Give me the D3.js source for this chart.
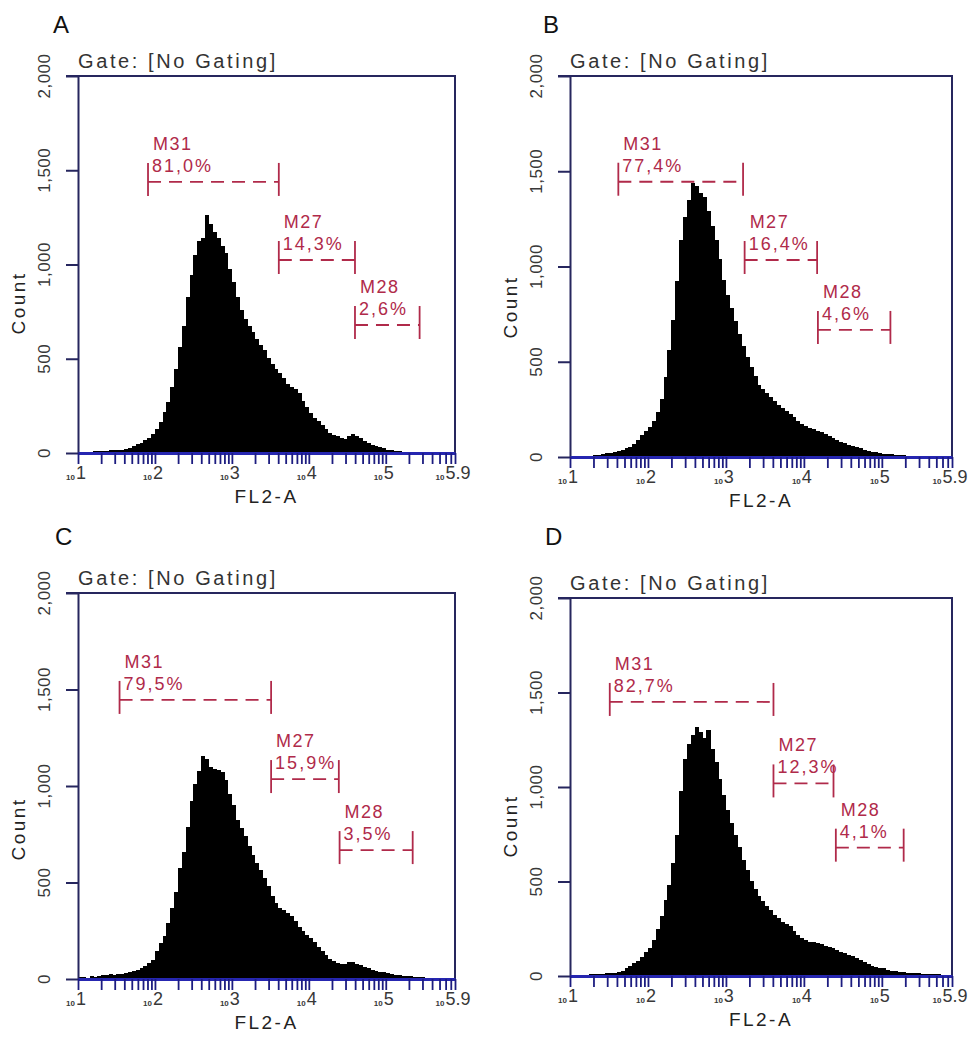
<!DOCTYPE html>
<html>
<head>
<meta charset="utf-8">
<script src="https://cdn.jsdelivr.net/npm/d3@7"></script>
<style>
  body { margin: 0; background: #fff; }
  svg { display: block; }
  text { font-family: Arial, "Liberation Sans", sans-serif; }
</style>
</head>
<body>
<svg id="chart" width="977" height="1048"></svg>
<script>
// FL2-A histograms, channels of 0.05 log10 units starting at 10^1
const BIN_START = 1;
const BIN_STEP = 0.05;

const countsA = [0,3,0,5,8,10,12,9,15,14,18,16,22,28,35,48,55,68,80,102,
  128,165,215,268,350,445,560,672,830,945,1050,1125,1140,1265,1215,1170,1140,1100,1060,975,
  905,830,760,712,676,640,605,575,545,505,470,445,425,398,365,350,338,318,275,245,
  212,188,168,148,128,108,96,90,82,76,88,100,92,80,66,52,44,36,30,24,
  18,14,11,9,7,5,3,2,1,0,0,0,0,0,0,0,0,0];
const countsB = [2,4,0,3,5,6,8,12,18,20,22,27,30,36,46,55,70,88,115,138,
  156,190,235,305,420,560,720,925,1140,1260,1350,1440,1425,1385,1365,1290,1215,1140,1040,930,
  850,780,715,645,585,525,470,425,380,355,335,315,292,272,258,242,228,212,188,172,
  162,152,145,138,130,120,110,100,88,80,72,64,58,50,45,38,32,27,24,21,
  18,16,14,12,10,8,7,5,3,2,0,0,0,0,0,0,0,0];
const countsC = [8,12,6,15,10,18,20,22,24,22,26,28,30,34,40,46,55,68,82,100,
  145,185,225,290,370,450,575,660,790,920,1010,1080,1155,1140,1100,1090,1085,1070,1030,960,
  900,825,780,740,690,645,600,565,525,480,430,395,370,355,340,328,300,270,250,228,
  212,190,165,145,125,105,92,82,76,80,90,88,78,70,62,55,48,42,38,34,
  30,26,23,20,17,15,13,11,9,8,6,5,3,2,0,0,0,0];
const countsD = [0,2,0,4,6,8,10,12,11,14,15,18,20,26,40,55,68,80,100,125,
  150,190,250,315,400,480,600,745,980,1150,1230,1275,1320,1290,1260,1300,1200,1130,1040,960,
  880,810,745,680,615,560,505,460,425,395,372,350,325,305,288,275,262,240,215,200,
  192,182,178,175,168,160,155,148,138,128,120,112,104,95,85,75,62,55,50,44,
  40,34,28,24,22,20,18,17,15,14,13,12,11,10,9,7,6,5];

// markers: [from, to] in log10 units, bracket level in counts
const markerNames = ["M31", "M27", "M28"];
const pctA = ["81,0%", "14,3%", "2,6%"];
const pctB = ["77,4%", "16,4%", "4,6%"];
const pctC = ["79,5%", "15,9%", "3,5%"];
const pctD = ["82,7%", "12,3%", "4,1%"];
const rangesA = [[1.91, 3.61], [3.61, 4.60], [4.60, 5.44]];
const rangesB = [[1.62, 3.22], [3.24, 4.17], [4.18, 5.11]];
const rangesC = [[1.54, 3.51], [3.51, 4.39], [4.40, 5.35]];
const rangesD = [[1.51, 3.61], [3.61, 4.38], [4.41, 5.28]];
const levelsA = [1438, 1024, 679];
const levelsB = [1445, 1034, 667];
const levelsC = [1446, 1036, 668];
const levelsD = [1450, 1019, 679];

const yTicks = [0, 500, 1000, 1500, 2000];
const xExponents = [1, 2, 3, 4, 5, 5.9];
const xExponentLabels = ["1", "2", "3", "4", "5", "5.9"];

const panels = [
  {id: "A", counts: countsA, pct: pctA, ranges: rangesA, levels: levelsA},
  {id: "B", counts: countsB, pct: pctB, ranges: rangesB, levels: levelsB},
  {id: "C", counts: countsC, pct: pctC, ranges: rangesC, levels: levelsC},
  {id: "D", counts: countsD, pct: pctD, ranges: rangesD, levels: levelsD}
];

// frame geometry of each panel on the page
const frames = {
  A: {x0: 78,  x1: 455, top: 76,  base: 453, lx: 53,  ly: 33},
  B: {x0: 570, x1: 952, top: 76,  base: 457, lx: 543, ly: 33},
  C: {x0: 78,  x1: 455, top: 593, base: 979, lx: 55,  ly: 545},
  D: {x0: 570, x1: 952, top: 598, base: 976, lx: 545, ly: 545}
};

const FRAME = "#26265e";
const AXIS = "#2626b0";
const MARK = "#b02a4a";
const LABEL = "#383838";

const svg = d3.select("#chart");
svg.append("rect").attr("width", 977).attr("height", 1048).attr("fill", "#fff");

// all log-axis ticks: 2..9 x 10^n up to 10^5.9
const xMinor = [];
for (let n = 1; n <= 5; n++)
  for (let k = 1; k <= 9; k++)
    if (k * 10 ** n <= 10 ** 5.9) xMinor.push(k * 10 ** n);
xMinor.push(10 ** 5.9);

panels.forEach(p => {
  const f = frames[p.id];
  const g = svg.append("g");

  const x = d3.scaleLog().domain([10, 10 ** 5.9]).range([f.x0, f.x1]);
  const y = d3.scaleLinear().domain([0, 2000]).range([f.base, f.top]);

  // panel letter
  g.append("text")
    .attr("x", f.lx).attr("y", f.ly)
    .attr("font-family", "'Open Sans', sans-serif")
    .attr("font-size", 24)
    .attr("fill", "#111")
    .text(p.id);

  g.append("text")
    .attr("x", f.x0).attr("y", f.top - 8)
    .attr("font-size", 20)
    .attr("letter-spacing", 2.6)
    .attr("fill", "#333")
    .text("Gate: [No Gating]");

  // histogram
  g.append("g").selectAll("rect")
    .data(p.counts)
    .join("rect")
      .attr("x", (d, i) => x(10 ** (BIN_START + i * BIN_STEP)))
      .attr("width", (d, i) => x(10 ** (BIN_START + (i + 1) * BIN_STEP)) - x(10 ** (BIN_START + i * BIN_STEP)) + 0.4)
      .attr("y", d => y(d))
      .attr("height", d => f.base - y(d))
      .attr("fill", "#000")
      .attr("shape-rendering", "crispEdges");

  // frame: top (runs out as the 2,000 tick) and right side
  g.append("path")
    .attr("d", `M${f.x0 - 12},${f.top}H${f.x1}V${f.base}`)
    .attr("fill", "none").attr("stroke", FRAME).attr("stroke-width", 2);

  // y axis
  const yAxis = g.append("g")
    .attr("transform", `translate(${f.x0},0)`)
    .call(d3.axisLeft(y).tickValues(yTicks).tickSize(12).tickSizeOuter(0).tickFormat(""));
  yAxis.selectAll("path, line").attr("stroke", FRAME).attr("stroke-width", 2);

  g.selectAll(".ylab")
    .data(yTicks)
    .join("text")
      .attr("transform", d => `translate(${f.x0 - 34},${y(d)}) rotate(-90)`)
      .attr("text-anchor", "middle")
      .attr("dy", "0.35em")
      .attr("font-size", 17)
      .attr("letter-spacing", 0.5)
      .attr("fill", LABEL)
      .text(d3.format(","));

  g.append("text")
    .attr("transform", `translate(${f.x0 - 60},${f.base - 150}) rotate(-90)`)
    .attr("text-anchor", "middle")
    .attr("dy", "0.35em")
    .attr("font-size", 19)
    .attr("letter-spacing", 2.5)
    .attr("fill", "#222")
    .text("Count");

  // x axis (log)
  const xAxis = g.append("g")
    .attr("transform", `translate(0,${f.base})`)
    .call(d3.axisBottom(x).tickValues(xMinor).tickSize(11).tickSizeOuter(0).tickFormat(""));
  xAxis.select(".domain").attr("stroke", AXIS).attr("stroke-width", 3);
  xAxis.selectAll(".tick line").attr("stroke", "#1c1c80").attr("stroke-width", 1.8);

  xExponents.forEach((e, i) => {
    const t = g.append("text")
      .attr("x", x(10 ** e) - 2)
      .attr("y", f.base + 27)
      .attr("text-anchor", "middle")
      .attr("fill", LABEL);
    t.append("tspan").attr("font-size", 8).attr("font-weight", "bold").text("10");
    t.append("tspan").attr("font-size", 18).attr("dx", 1).attr("dy", -1).text(xExponentLabels[i]);
  });

  g.append("text")
    .attr("x", (f.x0 + f.x1) / 2)
    .attr("y", f.base + 50)
    .attr("text-anchor", "middle")
    .attr("font-size", 19)
    .attr("letter-spacing", 2.5)
    .attr("fill", "#222")
    .text("FL2-A");

  // marker brackets
  p.ranges.forEach((r, i) => {
    const xa = x(10 ** r[0]), xb = x(10 ** r[1]), ly = y(p.levels[i]);
    const m = g.append("g").attr("stroke", MARK).attr("stroke-width", 1.8).attr("fill", "none");
    m.append("line").attr("x1", xa).attr("x2", xb).attr("y1", ly).attr("y2", ly)
      .attr("stroke-dasharray", "13,8");
    [xa, xb].forEach(xx => {
      m.append("line").attr("x1", xx).attr("x2", xx).attr("y1", ly - 19).attr("y2", ly + 14);
    });
    g.append("text")
      .attr("x", xa + 5).attr("y", ly - 32)
      .attr("font-family", "'DejaVu Sans', sans-serif")
      .attr("font-size", 18).attr("letter-spacing", 1.5)
      .attr("fill", MARK)
      .text(markerNames[i]);
    g.append("text")
      .attr("x", xa + 4).attr("y", ly - 10)
      .attr("font-family", "'DejaVu Sans', sans-serif")
      .attr("font-size", 18).attr("letter-spacing", 2)
      .attr("fill", MARK)
      .text(p.pct[i]);
  });
});
</script>
</body>
</html>
